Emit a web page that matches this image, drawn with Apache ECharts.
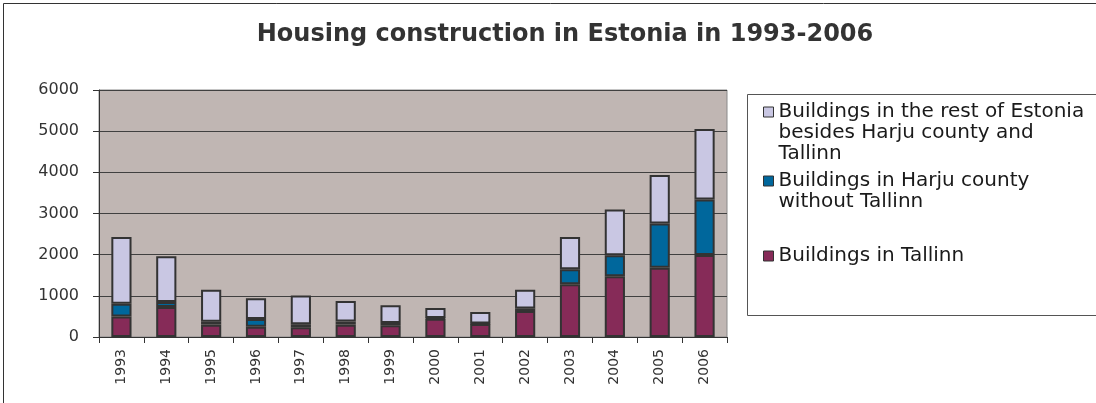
<!DOCTYPE html>
<html>
<head>
<meta charset="utf-8">
<script src="https://cdn.jsdelivr.net/npm/echarts@6/dist/echarts.min.js"></script>
<style>
  html, body { margin: 0; padding: 0; background: #fff; }
  #chart { width: 1096px; height: 403px; }
</style>
</head>
<body>
<div id="chart"></div>
<script>
  // years on the x axis
  const years = ['1993', '1994', '1995', '1996', '1997', '1998', '1999',
    '2000', '2001', '2002', '2003', '2004', '2005', '2006'];
  // buildings, stacked bottom to top
  const tallinn = [500, 730, 300, 250, 235, 300, 285, 445, 315, 630, 1280, 1475, 1680, 1990];
  const harju = [310, 120, 70, 190, 75, 75, 55, 15, 10, 65, 365, 510, 1080, 1350];
  const restOfEstonia = [1620, 1110, 780, 500, 700, 500, 430, 245, 285, 455, 785, 1110, 1175, 1710];
  const yTicks = { min: 0, max: 6000, step: 1000 };

  const names = {
    rest: 'Buildings in the rest of Estonia\nbesides Harju county and\nTallinn',
    harju: 'Buildings in Harju county\nwithout Tallinn',
    tallinn: 'Buildings in Tallinn'
  };

  const font = 'DejaVu Sans';
  const lineH = 21;
  const border = { borderColor: '#333', borderWidth: 2 };

  // legend text is centred on its icon, so for multi-line entries the icon
  // is a tall path with the square drawn next to the first line
  function legendFor(name, top, lines) {
    const h = lines * lineH;
    const icon = lines > 1
      ? 'path://M0,0M0,5.5h10v10h-10zM0,' + h
      : 'rect';
    return {
      data: [name],
      orient: 'vertical',
      left: 763,
      top: top,
      padding: 0,
      icon: icon,
      itemWidth: 10,
      itemHeight: lines > 1 ? h : 10,
      itemStyle: { borderWidth: 1, borderColor: '#333' },
      selectedMode: false,
      textStyle: { fontFamily: font, fontSize: 20, lineHeight: lineH, color: '#1a1a1a' }
    };
  }

  const chart = echarts.init(document.getElementById('chart'));
  chart.setOption({
    animation: false,
    title: {
      text: 'Housing construction in Estonia in 1993-2006',
      left: 560,
      top: 18,
      textAlign: 'center',
      textStyle: { fontFamily: font, fontSize: 24, fontWeight: 'bold', color: '#333' }
    },
    graphic: [
      { type: 'rect', shape: { x: 3.5, y: 3.5, width: 1200, height: 500 },
        style: { fill: 'none', stroke: '#333', lineWidth: 1 }, silent: true, z: -1 },
      { type: 'rect', shape: { x: 747.5, y: 94.5, width: 400, height: 221 },
        style: { fill: '#fff', stroke: '#555', lineWidth: 1 }, silent: true, z: -1 }
    ],
    legend: [
      legendFor(names.rest, 101, 3),
      legendFor(names.harju, 170, 2),
      legendFor(names.tallinn, 245.5, 1)
    ],
    grid: {
      left: 99,
      right: 369,
      top: 90,
      bottom: 66,
      show: true,
      backgroundColor: '#C0B6B3',
      borderColor: '#8a8a8a',
      borderWidth: 1
    },
    xAxis: {
      type: 'category',
      data: years,
      axisLine: { lineStyle: { color: '#333', width: 1 } },
      axisTick: { show: true, length: 6, lineStyle: { color: '#333' } },
      axisLabel: { rotate: 90, margin: 12, fontFamily: font, fontSize: 14, color: '#333' }
    },
    yAxis: {
      type: 'value',
      min: yTicks.min,
      max: yTicks.max,
      interval: yTicks.step,
      axisLine: { show: true, lineStyle: { color: '#333', width: 1 } },
      axisTick: { show: true, length: 6, lineStyle: { color: '#333' } },
      axisLabel: { margin: 20, fontFamily: font, fontSize: 16, color: '#333',
        formatter: v => String(v) },
      splitLine: { lineStyle: { color: '#404040', width: 1 } }
    },
    series: [
      { name: names.tallinn, type: 'bar', stack: 'all', barWidth: '45%', data: tallinn,
        itemStyle: Object.assign({ color: '#862B58' }, border) },
      { name: names.harju, type: 'bar', stack: 'all', data: harju,
        itemStyle: Object.assign({ color: '#00679C' }, border) },
      { name: names.rest, type: 'bar', stack: 'all', data: restOfEstonia,
        itemStyle: Object.assign({ color: '#C9C7E3' }, border) }
    ]
  });
</script>
</body>
</html>
